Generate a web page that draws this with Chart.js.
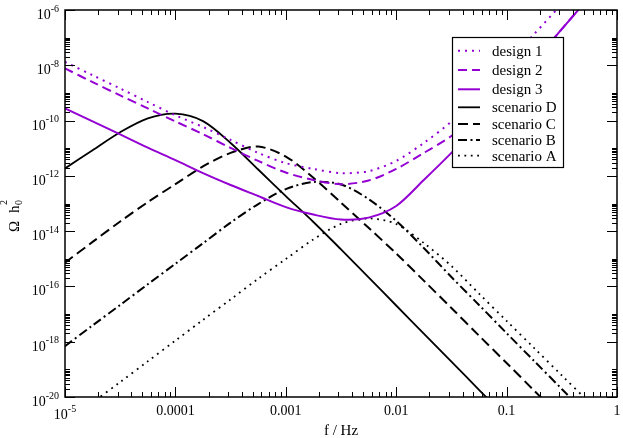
<!DOCTYPE html>
<html>
<head>
<meta charset="utf-8">
<script src="https://cdn.jsdelivr.net/npm/chart.js@4.4.1/dist/chart.umd.min.js"></script>
<style>
  html, body { margin: 0; padding: 0; background: #fff; }
  #wrap { width: 623px; height: 438px; }
</style>
</head>
<body>
<div id="wrap"><canvas id="omegaChart"></canvas></div>
<script>
// frequency grid in Hz, quarter-decade steps
const freq = [1e-5, 1.778e-5, 3.162e-5, 5.623e-5, 1e-4, 1.778e-4, 3.162e-4, 5.623e-4,
              1e-3, 1.778e-3, 3.162e-3, 5.623e-3, 1e-2, 1.778e-2, 3.162e-2, 5.623e-2,
              0.1, 0.1778, 0.3162, 0.5623, 1];

// log10(Omega h0^2) at each freq point (null = curve already off the plot)
const design1   = [-7.88, -8.36, -8.84, -9.33, -9.81, -10.23, -10.70, -11.17, -11.54, -11.75, -11.90,
                   -11.83, -11.46, -10.81, -10.03, -8.99, -7.92, -6.87, -5.78, null, null];
const design2   = [-8.11, -8.61, -9.09, -9.56, -10.03, -10.49, -10.99, -11.46, -11.88, -12.15, -12.30,
                   -12.17, -11.75, -11.17, -10.56, -9.73, -8.86, -7.85, -6.69, -5.53, null];
const design3   = [-9.56, -10.03, -10.50, -10.98, -11.43, -11.90, -12.33, -12.73, -13.13, -13.40, -13.58,
                   -13.51, -13.09, -12.15, -11.17, -10.12, -8.97, -7.85, -6.69, -5.53, null];
const scenarioD = [-11.73, -11.07, -10.42, -9.92, -9.75, -10.02, -10.81, -11.77, -12.73, -13.67, -14.66,
                   -15.67, -16.69, -17.71, -18.72, -19.74, -20.76, null, null, null, null];
const scenarioC = [-15.14, -14.39, -13.65, -12.95, -12.30, -11.66, -11.17, -10.94, -11.30, -12.07, -12.97,
                   -13.88, -14.81, -15.79, -16.78, -17.78, -18.77, -19.77, -20.76, null, null];
const scenarioB = [-18.16, -17.41, -16.67, -15.92, -15.18, -14.44, -13.69, -13.02, -12.48, -12.22, -12.31,
                   -12.84, -13.63, -14.61, -15.66, -16.67, -17.69, -18.70, -19.71, -20.73, null];
const scenarioA = [-20.95, -20.20, -19.46, -18.71, -17.96, -17.21, -16.47, -15.72, -15.01, -14.30, -13.74,
                   -13.54, -13.74, -14.43, -15.26, -16.26, -17.25, -18.23, -19.22, -20.20, null];

// tick labels ('^' marks a superscript)
const xTickVals = [1e-5, 1e-4, 1e-3, 1e-2, 0.1, 1];
const xTickText = ['10^-5', '0.0001', '0.001', '0.01', '0.1', '1'];
const yTickVals = [1e-20, 1e-18, 1e-16, 1e-14, 1e-12, 1e-10, 1e-8, 1e-6];
const yTickText = ['10^-20', '10^-18', '10^-16', '10^-14', '10^-12', '10^-10', '10^-8', '10^-6'];

const PURPLE = '#9400d3';
const SERIF = '"Liberation Serif", "Times New Roman", serif';

function toPoints(logs) {
    return freq.map((f, i) => ({ x: f, y: logs[i] === null ? null : Math.pow(10, logs[i]) }));
}

function makeSet(label, logs, color, width, dash, order) {
    return {
        label: label,
        data: toPoints(logs),
        borderColor: color,
        borderWidth: width,
        borderDash: dash,
        borderCapStyle: 'butt',
        pointRadius: 0,
        fill: false,
        tension: 0.3,
        order: order
    };
}

// draw "10^-8" style text; y is the baseline of the main part
function drawPow(ctx, text, x, y, align) {
    const parts = text.split('^');
    ctx.font = '14px ' + SERIF;
    const wb = ctx.measureText(parts[0]).width;
    ctx.font = '10px ' + SERIF;
    const we = parts[1] ? ctx.measureText(parts[1]).width : 0;
    let x0 = x;
    if (align === 'right') x0 = x - wb - we;
    if (align === 'center') x0 = x - (wb + we) / 2;
    ctx.textAlign = 'left';
    ctx.textBaseline = 'alphabetic';
    ctx.font = '14px ' + SERIF;
    ctx.fillText(parts[0], x0, y);
    if (parts[1]) {
        ctx.font = '10px ' + SERIF;
        ctx.fillText(parts[1], x0 + wb, y - 7.5);
    }
}

function seg(ctx, x1, y1, x2, y2) {
    ctx.beginPath();
    ctx.moveTo(x1, y1);
    ctx.lineTo(x2, y2);
    ctx.stroke();
}

const frameAndText = {
    id: 'frameAndText',
    afterDraw(chart) {
        const ctx = chart.ctx;
        const a = chart.chartArea;
        const xs = chart.scales.x;
        const ys = chart.scales.y;
        ctx.save();
        ctx.fillStyle = '#000';
        ctx.strokeStyle = '#000';
        ctx.setLineDash([]);

        // ticks, pointing inwards on all four sides
        ctx.lineWidth = 1;
        for (let d = -5; d <= 0; d++) {
            for (let k = 1; k <= 9; k++) {
                const v = k * Math.pow(10, d);
                if (v > 1.0001) break;
                const px = Math.round(xs.getPixelForValue(v)) + 0.5;
                const len = k === 1 ? 10 : 5;
                seg(ctx, px, a.bottom, px, a.bottom - len);
                seg(ctx, px, a.top, px, a.top + len);
            }
        }
        for (let d = -20; d <= -6; d += 2) {
            const py = Math.round(ys.getPixelForValue(Math.pow(10, d))) + 0.5;
            seg(ctx, a.left, py, a.left + 10, py);
            seg(ctx, a.right, py, a.right - 10, py);
            if (d === -6) continue;
            for (let k = 2; k <= 10; k++) {
                const my = Math.round(ys.getPixelForValue(k * Math.pow(10, d))) + 0.5;
                seg(ctx, a.left, my, a.left + 5, my);
                seg(ctx, a.right, my, a.right - 5, my);
            }
        }

        // frame
        ctx.lineWidth = 1.5;
        ctx.strokeRect(a.left, a.top, a.right - a.left, a.bottom - a.top);

        // tick labels
        xTickVals.forEach((v, i) => {
            const px = xs.getPixelForValue(v);
            const t = xTickText[i];
            drawPow(ctx, t, px, a.bottom + (t.indexOf('^') >= 0 ? 22 : 18), 'center');
        });
        yTickVals.forEach((v, i) => {
            const py = ys.getPixelForValue(v);
            drawPow(ctx, yTickText[i], a.left - 6, py + 9, 'right');
        });

        // axis titles
        ctx.font = '15px ' + SERIF;
        ctx.textAlign = 'center';
        ctx.textBaseline = 'alphabetic';
        ctx.fillText('f / Hz', (a.left + a.right) / 2, 435);

        ctx.save();
        ctx.translate(19, 232);
        ctx.rotate(-Math.PI / 2);
        ctx.textAlign = 'left';
        ctx.font = '15px ' + SERIF;
        ctx.fillText('\u03A9', 0, 0);
        ctx.fillText('h', 19, 0);
        ctx.font = '10px ' + SERIF;
        ctx.fillText('0', 27, 3);
        ctx.fillText('2', 27, -12);
        ctx.restore();

        // legend box
        const bx = 452, by = 37, bw = 111, bh = 130;
        ctx.fillStyle = '#fff';
        ctx.fillRect(bx, by, bw, bh);
        ctx.lineWidth = 1.2;
        ctx.strokeStyle = '#000';
        ctx.strokeRect(bx + 0.5, by + 0.5, bw, bh);
        const rowY = [50.7, 70, 89.3, 107.3, 124, 140, 155.7];
        chart.data.datasets.forEach((ds, i) => {
            const y = rowY[i];
            ctx.strokeStyle = ds.borderColor;
            ctx.lineWidth = ds.borderWidth;
            ctx.lineCap = 'butt';
            ctx.setLineDash(ds.borderDash || []);
            seg(ctx, bx + 6, y, bx + 28, y);
            ctx.setLineDash([]);
            ctx.fillStyle = '#000';
            ctx.font = '15px ' + SERIF;
            ctx.textAlign = 'left';
            ctx.textBaseline = 'alphabetic';
            ctx.fillText(ds.label, bx + 40, y + 5);
        });
        ctx.restore();
    }
};

new Chart(document.getElementById('omegaChart'), {
    type: 'line',
    data: {
        datasets: [
            makeSet('design 1', design1, PURPLE, 2, [2, 5], 2),
            makeSet('design 2', design2, PURPLE, 2, [9, 5], 1),
            makeSet('design 3', design3, PURPLE, 2, [], 0),
            makeSet('scenario D', scenarioD, '#000', 1.8, [], 2),
            makeSet('scenario C', scenarioC, '#000', 2, [10, 5], 2),
            makeSet('scenario B', scenarioB, '#000', 2, [9, 3.5, 2, 3.5], 2),
            makeSet('scenario A', scenarioA, '#000', 1.8, [1.8, 4.6], 2)
        ]
    },
    options: {
        responsive: true,
        maintainAspectRatio: false,
        animation: false,
        layout: { padding: { top: 10, right: 6, left: 0, bottom: 0 } },
        plugins: {
            legend: { display: false },
            tooltip: { enabled: false }
        },
        scales: {
            x: {
                type: 'logarithmic',
                min: 1e-5,
                max: 1,
                grid: { display: false },
                border: { display: false },
                ticks: { display: false },
                afterFit(scale) { scale.height = 41; }
            },
            y: {
                type: 'logarithmic',
                min: 1e-20,
                max: 1e-6,
                grid: { display: false },
                border: { display: false },
                ticks: { display: false },
                afterFit(scale) { scale.width = 65; }
            }
        }
    },
    plugins: [frameAndText]
});
</script>
</body>
</html>
